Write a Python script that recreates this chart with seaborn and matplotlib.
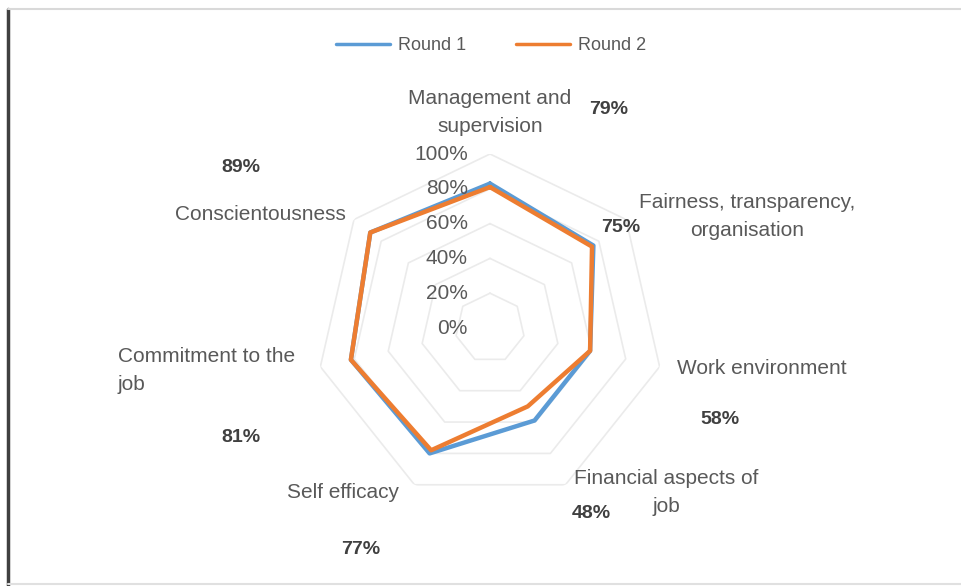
import numpy as np
import matplotlib
matplotlib.use('Agg')
from matplotlib import pyplot as plt
import seaborn as sns

## data
categories = ['Management and\nsupervision', 'Fairness, transparency,\norganisation', 'Work environment',
              'Financial aspects of\njob', 'Self efficacy', 'Commitment to the\njob', 'Conscientousness']
round1 = [0.83, 0.76, 0.59, 0.59, 0.80, 0.82, 0.88]
round2 = [0.81, 0.75, 0.59, 0.50, 0.78, 0.82, 0.88]
value_labels = ['79%', '75%', '58%', '48%', '77%', '81%', '89%']
ring_ticks = [0, 0.2, 0.4, 0.6, 0.8, 1.0]
ring_labels = ['0%', '20%', '40%', '60%', '80%', '100%']

sns.set_style('white')
plt.rcParams['font.family'] = ['Liberation Sans', 'DejaVu Sans']
grey = '#595959'

W, H = 962, 586
fig = plt.figure(figsize=(W / 100, H / 100), dpi=100)

def px(x, y):  ## pixel position -> figure fraction
    return x / W, 1 - y / H

cx, cy, R = 490, 328, 174
ax = fig.add_axes([(cx - R) / W, 1 - (cy + R) / H, 2 * R / W, 2 * R / H], projection='polar')
ax.set_theta_zero_location('N')
ax.set_theta_direction(-1)
ax.set_ylim(0, 1)
ax.grid(False)
ax.spines['polar'].set_visible(False)
ax.set_xticks([])
ax.set_yticks([])

angles = np.linspace(0, 2 * np.pi, len(categories), endpoint=False)
closed = np.append(angles, angles[0])

## heptagon rings
for r in ring_ticks[1:]:
    ax.plot(closed, [r] * len(closed), color='#ebebeb', lw=1.2, zorder=1)

l1, = ax.plot(closed, round1 + round1[:1], color='#5B9BD5', lw=3.2, label='Round 1', zorder=3)
l2, = ax.plot(closed, round2 + round2[:1], color='#ED7D31', lw=3.2, label='Round 2', zorder=4)

for r, lab in zip(ring_ticks, ring_labels):
    ax.annotate(lab, (0, r), xytext=(-16, 0), textcoords='offset points',
                ha='right', va='center', fontsize=15, color=grey)

## category labels, one text per line
cat_pos = [(490, 99, 'center'), (747, 202, 'center'), (762, 369, 'center'), (666, 479, 'center'),
           (343, 493, 'center'), (118, 356, 'left'), (260, 215, 'center')]
for lab, (x, y, ha) in zip(categories, cat_pos):
    for i, line in enumerate(lab.split('\n')):
        fig.text(*px(x, y + i * 28), line, ha=ha, va='center', fontsize=15, color=grey)

## value labels
val_pos = [(609, 109), (621, 227), (720, 420), (591, 514), (361, 550), (241, 437), (241, 168)]
for lab, (x, y) in zip(value_labels, val_pos):
    fig.text(*px(x, y), lab, ha='center', va='center', fontsize=14, fontweight='bold', color='#404040')

fig.legend(handles=[l1, l2], loc='center', bbox_to_anchor=px(491, 46), ncol=2, frameon=False,
           fontsize=13, labelcolor=grey, handlelength=3.0, handletextpad=0.4, columnspacing=2.8)
for h in fig.legends[0].legend_handles:
    h.set_linewidth(2.5)

## outer frame
fig.add_artist(plt.Line2D([8 / W, 8 / W], [0, 1 - 9 / H], color='#404040', lw=2.5))
fig.add_artist(plt.Line2D([8 / W, 1], [1 - 9 / H, 1 - 9 / H], color='#d9d9d9', lw=1.5))
fig.add_artist(plt.Line2D([8 / W, 1], [1 - 584 / H, 1 - 584 / H], color='#e0e0e0', lw=1.5))

plt.savefig('out.png', dpi=100)
